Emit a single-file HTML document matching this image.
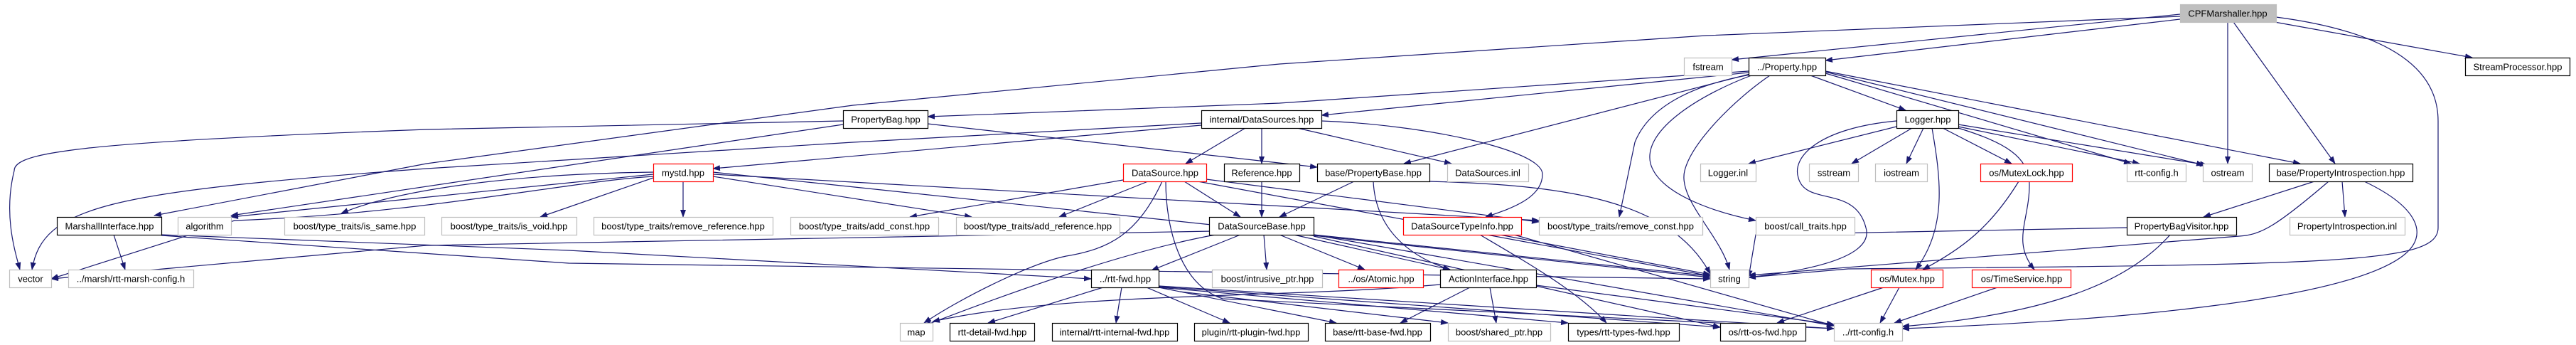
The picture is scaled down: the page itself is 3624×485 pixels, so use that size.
<!DOCTYPE html>
<html><head><meta charset="utf-8"><style>
html,body{margin:0;padding:0;background:#fff;}
svg{display:block;}
text{font-family:"Liberation Sans",sans-serif;font-size:13px;text-anchor:middle;fill:#000;}
.e{fill:none;stroke:#191970;stroke-width:1.2;marker-end:url(#a);}
.b{fill:#fff;stroke:#000;stroke-width:1.2;}
.g{fill:#fff;stroke:#bfbfbf;stroke-width:1.2;}
.r{fill:#fff;stroke:#ff0000;stroke-width:1.2;}
</style></head><body>
<svg width="3624" height="485" viewBox="0 0 3624 485" xmlns="http://www.w3.org/2000/svg">
<defs><marker id="a" markerWidth="11" markerHeight="8" refX="10" refY="4" orient="auto" markerUnits="userSpaceOnUse"><path d="M0,0 L11,4 L0,8 z" fill="#191970"/></marker></defs>
<g>
<path class="e" d="M3067,20 L2436,84"/>
<path class="e" d="M3067,27 L2568,85"/>
<path class="e" d="M3200,31 L3478,81"/>
<path class="e" d="M3134,31 L3134,230"/>
<path class="e" d="M3142,31 L3285,230"/>
<path class="e" d="M3202,24 C3400,50 3430,120 3430,170 L3430,320 C3430,370 3300,372 2600,378 L2460,390"/>
<path class="e" d="M3067,23 L2400,50 L1800,90 L1200,148 L600,230 L217,303"/>
<path class="e" d="M2460,100 L1800,145 L1305,164"/>
<path class="e" d="M2460,102 L1859,162"/>
<path class="e" d="M2462,104 L1975,230"/>
<path class="e" d="M2547,106 L2681,155"/>
<path class="e" d="M2568,103 L2998,230"/>
<path class="e" d="M2568,101 L3100,232"/>
<path class="e" d="M2568,100 L3236,230"/>
<path class="e" d="M2462,105 C2380,120 2320,150 2300,200 L2278,305"/>
<path class="e" d="M2464,106 C2400,130 2310,180 2322,230 C2335,275 2420,300 2470,310"/>
<path class="e" d="M2490,106 C2440,140 2380,200 2370,240 C2360,280 2420,330 2433,379"/>
<path class="e" d="M2668,178 L2460,230"/>
<path class="e" d="M2690,180 L2605,230"/>
<path class="e" d="M2706,180 L2682,230"/>
<path class="e" d="M2733,180 L2830,230"/>
<path class="e" d="M2755,178 L3010,230"/>
<path class="e" d="M2755,175 L3105,232"/>
<path class="e" d="M2718,180 C2730,250 2740,320 2695,379"/>
<path class="e" d="M2755,180 C2820,200 2855,220 2855,260 C2855,310 2830,340 2862,379"/>
<path class="e" d="M2668,170 C2560,180 2520,220 2530,250 C2540,290 2610,260 2625,320 C2640,370 2500,385 2460,390"/>
<path class="e" d="M2840,255 C2800,320 2760,350 2705,379"/>
<path class="e" d="M2650,404 L2500,454"/>
<path class="e" d="M2672,404 L2645,454"/>
<path class="e" d="M2810,404 L2665,454"/>
<path class="e" d="M3053,330 C3000,390 2900,440 2676,459"/>
<path class="e" d="M3256,255 L3100,305"/>
<path class="e" d="M3295,255 L3299,305"/>
<path class="e" d="M3276,255 C3200,320 3180,330 3150,332 L2460,387"/>
<path class="e" d="M3326,255 C3400,290 3420,330 3380,360 C3300,420 3000,450 2676,462"/>
<path class="e" d="M2992,320 L2470,330 L2460,390"/>
<path class="e" d="M1186,170 L600,182 C100,200 20,215 20,240 C5,300 20,350 28,379"/>
<path class="e" d="M1186,175 L325,303"/>
<path class="e" d="M1305,174 L1853,235"/>
<path class="e" d="M1690,173 L1200,200 L600,237 C150,270 60,290 45,379"/>
<path class="e" d="M1690,176 L1003,237"/>
<path class="e" d="M1752,180 L1668,230"/>
<path class="e" d="M1775,180 L1775,230"/>
<path class="e" d="M1825,180 L2042,230"/>
<path class="e" d="M1859,170 C2000,175 2170,210 2170,245 C2170,280 2120,295 2090,305"/>
<path class="e" d="M919,250 L760,305"/>
<path class="e" d="M961,255 L961,305"/>
<path class="e" d="M919,245 L325,305"/>
<path class="e" d="M919,242 C700,245 550,270 480,300"/>
<path class="e" d="M1003,248 L1367,305"/>
<path class="e" d="M1003,245 L2165,310"/>
<path class="e" d="M919,248 C800,255 600,300 330,310 L72,392"/>
<path class="e" d="M1003,242 L2406,390"/>
<path class="e" d="M1580,253 L1280,305"/>
<path class="e" d="M1615,255 L1490,305"/>
<path class="e" d="M1666,255 L1745,305"/>
<path class="e" d="M1635,255 C1600,330 1560,350 1500,360 C1450,370 1350,420 1300,454"/>
<path class="e" d="M1640,255 C1640,320 1660,400 1720,420 L2580,462"/>
<path class="e" d="M1697,252 L2165,312"/>
<path class="e" d="M1685,255 L2406,388"/>
<path class="e" d="M1775,255 L1775,305"/>
<path class="e" d="M1905,255 L1800,305"/>
<path class="e" d="M1932,255 C1935,320 1980,360 2040,379"/>
<path class="e" d="M2011,255 C2200,260 2350,280 2406,385"/>
<path class="e" d="M1745,330 L1620,380"/>
<path class="e" d="M1778,330 L1782,379"/>
<path class="e" d="M1800,330 L1920,379"/>
<path class="e" d="M1820,330 L2040,379"/>
<path class="e" d="M1848,330 L2406,388"/>
<path class="e" d="M1710,330 C1600,350 1450,400 1300,458"/>
<path class="e" d="M1848,332 L2420,460"/>
<path class="e" d="M1848,330 L2580,458"/>
<path class="e" d="M1705,325 L600,345 L72,392"/>
<path class="e" d="M160,330 L176,379"/>
<path class="e" d="M227,330 L800,352 L1535,392"/>
<path class="e" d="M227,331 L800,370 L2406,392"/>
<path class="e" d="M2110,330 L2406,386"/>
<path class="e" d="M2082,330 C2150,370 2220,410 2260,454"/>
<path class="e" d="M2130,330 L2580,458"/>
<path class="e" d="M1552,404 L1390,454"/>
<path class="e" d="M1578,404 L1570,454"/>
<path class="e" d="M1613,404 L1730,454"/>
<path class="e" d="M1630,404 L1880,454"/>
<path class="e" d="M1630,404 L2206,454"/>
<path class="e" d="M1630,403 L2420,460"/>
<path class="e" d="M1630,402 L2580,462"/>
<path class="e" d="M2068,404 L1970,454"/>
<path class="e" d="M2096,404 L2105,454"/>
<path class="e" d="M2026,400 C1800,420 1500,410 1312,452"/>
<path class="e" d="M2161,401 L2580,456"/>
<path class="e" d="M1660,410 L2037,454"/>
</g>
<g>
<rect class="g" x="3067.5" y="6.5" width="135" height="25" style="fill:#bfbfbf"/><text x="3134" y="23.5">CPFMarshaller.hpp</text>
<rect class="g" x="2369.5" y="81.5" width="67" height="25"/><text x="2403" y="98.5">fstream</text>
<rect class="b" x="2460.5" y="81.5" width="108" height="25"/><text x="2514" y="98.5">../Property.hpp</text>
<rect class="b" x="3468.5" y="81.5" width="147" height="25"/><text x="3542" y="98.5">StreamProcessor.hpp</text>
<rect class="b" x="1186.5" y="155.5" width="119" height="25"/><text x="1246" y="172.5">PropertyBag.hpp</text>
<rect class="b" x="1690.5" y="155.5" width="169" height="25"/><text x="1775" y="172.5">internal/DataSources.hpp</text>
<rect class="b" x="2668.5" y="155.5" width="87" height="25"/><text x="2712" y="172.5">Logger.hpp</text>
<rect class="r" x="919.5" y="230.5" width="84" height="25"/><text x="961" y="247.5">mystd.hpp</text>
<rect class="r" x="1580.5" y="230.5" width="117" height="25"/><text x="1639" y="247.5">DataSource.hpp</text>
<rect class="b" x="1722.5" y="230.5" width="106" height="25"/><text x="1775" y="247.5">Reference.hpp</text>
<rect class="b" x="1853.5" y="230.5" width="158" height="25"/><text x="1932" y="247.5">base/PropertyBase.hpp</text>
<rect class="g" x="2036.5" y="230.5" width="114" height="25"/><text x="2093" y="247.5">DataSources.inl</text>
<rect class="g" x="2392.5" y="230.5" width="78" height="25"/><text x="2431" y="247.5">Logger.inl</text>
<rect class="g" x="2545.5" y="230.5" width="69" height="25"/><text x="2580" y="247.5">sstream</text>
<rect class="g" x="2638.5" y="230.5" width="73" height="25"/><text x="2675" y="247.5">iostream</text>
<rect class="r" x="2786.5" y="230.5" width="129" height="25"/><text x="2851" y="247.5">os/MutexLock.hpp</text>
<rect class="g" x="2992.5" y="230.5" width="83" height="25"/><text x="3034" y="247.5">rtt-config.h</text>
<rect class="g" x="3099.5" y="230.5" width="69" height="25"/><text x="3134" y="247.5">ostream</text>
<rect class="b" x="3192.5" y="230.5" width="202" height="25"/><text x="3293" y="247.5">base/PropertyIntrospection.hpp</text>
<rect class="b" x="80.5" y="305.5" width="147" height="25"/><text x="154" y="322.5">MarshallInterface.hpp</text>
<rect class="g" x="250.5" y="305.5" width="75" height="25"/><text x="288" y="322.5">algorithm</text>
<rect class="g" x="400.5" y="305.5" width="197" height="25"/><text x="499" y="322.5">boost/type_traits/is_same.hpp</text>
<rect class="g" x="621.5" y="305.5" width="190" height="25"/><text x="716" y="322.5">boost/type_traits/is_void.hpp</text>
<rect class="g" x="835.5" y="305.5" width="252" height="25"/><text x="961" y="322.5">boost/type_traits/remove_reference.hpp</text>
<rect class="g" x="1112.5" y="305.5" width="208" height="25"/><text x="1216" y="322.5">boost/type_traits/add_const.hpp</text>
<rect class="g" x="1345.5" y="305.5" width="230" height="25"/><text x="1460" y="322.5">boost/type_traits/add_reference.hpp</text>
<rect class="b" x="1701.5" y="305.5" width="147" height="25"/><text x="1775" y="322.5">DataSourceBase.hpp</text>
<rect class="r" x="1974.5" y="305.5" width="166" height="25"/><text x="2057" y="322.5">DataSourceTypeInfo.hpp</text>
<rect class="g" x="2165.5" y="305.5" width="230" height="25"/><text x="2280" y="322.5">boost/type_traits/remove_const.hpp</text>
<rect class="g" x="2470.5" y="305.5" width="139" height="25"/><text x="2540" y="322.5">boost/call_traits.hpp</text>
<rect class="b" x="2992.5" y="305.5" width="154" height="25"/><text x="3069" y="322.5">PropertyBagVisitor.hpp</text>
<rect class="g" x="3221.5" y="305.5" width="162" height="25"/><text x="3302" y="322.5">PropertyIntrospection.inl</text>
<rect class="g" x="13.5" y="379.5" width="59" height="25"/><text x="43" y="396.5">vector</text>
<rect class="g" x="96.5" y="379.5" width="176" height="25"/><text x="184" y="396.5">../marsh/rtt-marsh-config.h</text>
<rect class="b" x="1535.5" y="379.5" width="95" height="25"/><text x="1583" y="396.5">../rtt-fwd.hpp</text>
<rect class="g" x="1705.5" y="379.5" width="155" height="25"/><text x="1783" y="396.5">boost/intrusive_ptr.hpp</text>
<rect class="r" x="1883.5" y="379.5" width="119" height="25"/><text x="1943" y="396.5">../os/Atomic.hpp</text>
<rect class="b" x="2026.5" y="379.5" width="135" height="25"/><text x="2094" y="396.5">ActionInterface.hpp</text>
<rect class="g" x="2406.5" y="379.5" width="54" height="25"/><text x="2433" y="396.5">string</text>
<rect class="r" x="2632.5" y="379.5" width="101" height="25"/><text x="2683" y="396.5">os/Mutex.hpp</text>
<rect class="r" x="2774.5" y="379.5" width="139" height="25"/><text x="2844" y="396.5">os/TimeService.hpp</text>
<rect class="g" x="1266.5" y="454.5" width="46" height="25"/><text x="1289" y="471.5">map</text>
<rect class="b" x="1336.5" y="454.5" width="119" height="25"/><text x="1396" y="471.5">rtt-detail-fwd.hpp</text>
<rect class="b" x="1480.5" y="454.5" width="176" height="25"/><text x="1568" y="471.5">internal/rtt-internal-fwd.hpp</text>
<rect class="b" x="1680.5" y="454.5" width="160" height="25"/><text x="1760" y="471.5">plugin/rtt-plugin-fwd.hpp</text>
<rect class="b" x="1864.5" y="454.5" width="148" height="25"/><text x="1938" y="471.5">base/rtt-base-fwd.hpp</text>
<rect class="g" x="2037.5" y="454.5" width="144" height="25"/><text x="2109" y="471.5">boost/shared_ptr.hpp</text>
<rect class="b" x="2206.5" y="454.5" width="156" height="25"/><text x="2284" y="471.5">types/rtt-types-fwd.hpp</text>
<rect class="b" x="2420.5" y="454.5" width="120" height="25"/><text x="2480" y="471.5">os/rtt-os-fwd.hpp</text>
<rect class="g" x="2580.5" y="454.5" width="96" height="25"/><text x="2628" y="471.5">../rtt-config.h</text>
</g>
</svg>
</body></html>
